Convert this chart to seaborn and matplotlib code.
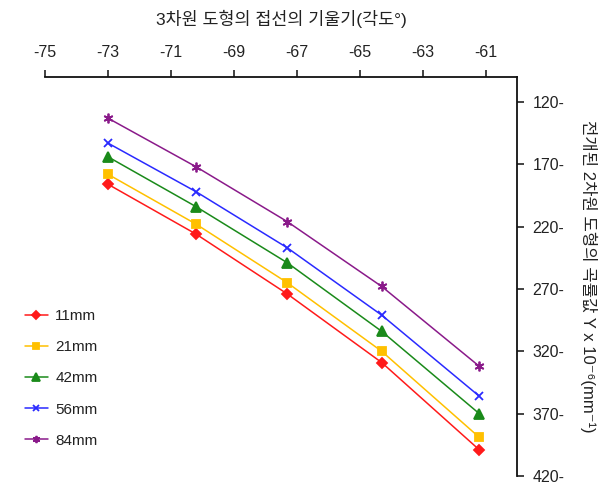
import matplotlib
matplotlib.use("Agg")
import matplotlib.pyplot as plt
import seaborn as sns
import pandas as pd

sns.set_theme(style="white")
plt.rcParams['font.family'] = ['Liberation Sans', 'Noto Sans CJK KR', 'DejaVu Sans']
plt.rcParams['axes.unicode_minus'] = False

# dados
angulos = [-73, -70.2, -67.3, -64.3, -61.2]
series = ["11mm", "21mm", "42mm", "56mm", "84mm"]
v_11 = [186, 226, 274, 329, 399]
v_21 = [178, 218, 265, 320, 389]
v_42 = [164, 204, 249, 304, 370]
v_56 = [153, 192, 237, 291, 356]
v_84 = [133, 172, 216, 268, 332]
x_ticks = [-75, -73, -71, -69, -67, -65, -63, -61]
y_ticks = [120, 170, 220, 270, 320, 370, 420]

cores = ["#ff1a1a", "#ffc000", "#1a8a1a", "#2a2aff", "#8a1a8a"]
marcadores = ["D", "s", "^", "x", (6, 2, 0)]
tamanhos = [5, 6, 7, 6, 7]

valores = [v_11, v_21, v_42, v_56, v_84]

fig = plt.figure(figsize=(6.12, 4.86), dpi=100)
ax = fig.add_axes([0.0735, 0.0206, 0.7713, 0.821])

# uma chamada por série (seaborn não mistura marcadores cheios e de linha)
for nome, vals, cor, marc, tam in zip(series, valores, cores, marcadores, tamanhos):
    df = pd.DataFrame({"angulo": angulos, "curvatura": vals})
    sns.lineplot(data=df, x="angulo", y="curvatura", color=cor, marker=marc,
                 markersize=tam, markeredgecolor=cor, markeredgewidth=1.3,
                 linewidth=1.1, label=nome, ax=ax)

ax.set_xlim(-75, -60)
ax.set_ylim(420, 100)

ax.xaxis.tick_top()
ax.xaxis.set_label_position('top')
ax.yaxis.tick_right()
ax.yaxis.set_label_position('right')

ax.set_xticks(x_ticks)
ax.set_xticklabels([str(t) for t in x_ticks])
ax.set_yticks(y_ticks)
ax.set_yticklabels([f"{t}-" for t in y_ticks])

for lado in ["left", "bottom"]:
    ax.spines[lado].set_visible(False)
for lado in ["top", "right"]:
    ax.spines[lado].set_color("#111111")
    ax.spines[lado].set_linewidth(1.3)

ax.tick_params(axis="x", top=True, bottom=False, direction="out", length=5,
               width=1.2, pad=7.5, labelsize=11.5, colors="#222222")
ax.tick_params(axis="y", right=True, left=False, direction="out", length=5,
               width=1.2, pad=6, labelsize=11.5, colors="#222222")

ax.set_xlabel("3차원 도형의 접선의 기울기(각도°)", fontsize=12.5, labelpad=14, color="#222222")
ax.set_ylabel("전개된 2차원 도형의 곡률값 Y x 10⁻⁶(mm⁻¹)", fontsize=12, rotation=270,
              va="bottom", labelpad=11, color="#222222")

handles, labels = ax.get_legend_handles_labels()
ax.legend_.remove()
fig.legend(handles, labels, loc="upper left", bbox_to_anchor=(0.018, 0.392),
           frameon=False, fontsize=11, handlelength=1.5, handletextpad=0.5,
           labelspacing=1.12, markerscale=0.75, labelcolor="#222222")

plt.savefig("out.png", dpi=100)
